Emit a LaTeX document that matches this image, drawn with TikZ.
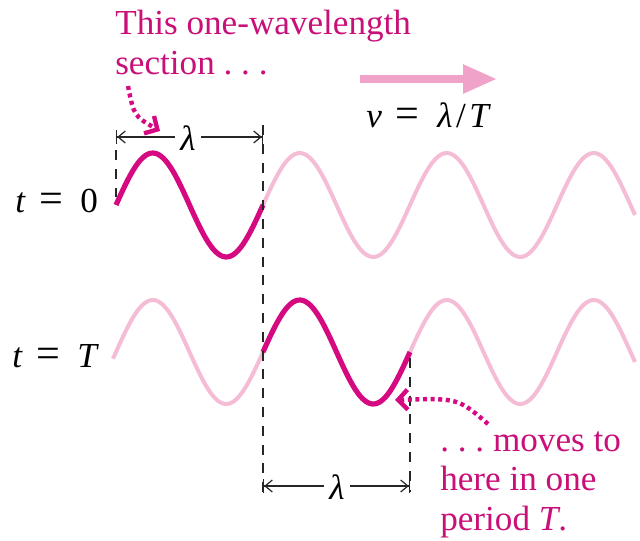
\documentclass[tikz,border=0pt]{standalone}
\usepackage{fontspec}
\setmainfont{Liberation Serif}
\usepackage{xcolor}
\usetikzlibrary{arrows.meta}

\definecolor{wavedark}{RGB}{214,10,128}
\definecolor{wavepale}{RGB}{245,188,213}
\definecolor{arrpink}{RGB}{241,162,200}
\definecolor{txtpink}{RGB}{200,16,120}
\newcommand{\eqs}{\hspace{0.4em}{\fontsize{30}{30}\selectfont=}\hspace{0.5em}}

\begin{document}
\begin{tikzpicture}[x=0.25mm,y=-0.25mm]
\tikzset{
  lb/.style={font=\fontsize{25}{28}\selectfont,inner sep=0pt},
  pk/.style={lb,text=txtpink,align=left},
  dk/.style={draw=wavedark,line width=1.3mm},
  pl/.style={draw=wavepale,line width=1mm},
  dsh/.style={draw=black!85,line width=0.45mm,dash pattern=on 2.5mm off 2.2mm},
  dim/.style={draw=black!85,line width=0.3mm,{Bar[width=3.5mm]Straight Barb[length=1.8mm,width=3mm]}-{Straight Barb[length=1.8mm,width=3mm]Bar[width=3.5mm]}},
  lam/.style={lb,fill=white,inner xsep=1.3mm,inner ysep=0.5mm},
  dot/.style={draw=wavedark,line width=1.1mm,dash pattern=on 1mm off 0.9mm,-{Straight Barb[length=2.4mm,width=5mm,line width=1.1mm]}},
  vel/.style={draw=arrpink,line width=2mm,-{Triangle[length=8.5mm,width=6.8mm]}}
}
\useasboundingbox (0,0) rectangle (640,540);

% waves at t=0
\draw[pl] plot[domain=263:635,samples=120] (\x,{205-52*sin(2.44898*(\x-116))});
\draw[dk] plot[domain=116:263,samples=60] (\x,{205-52*sin(2.44898*(\x-116))});
% waves at t=T
\draw[pl] plot[domain=113:263,samples=60] (\x,{352-52*sin(2.44898*(\x-116))});
\draw[pl] plot[domain=410:635,samples=90] (\x,{352-52*sin(2.44898*(\x-116))});
\draw[dk] plot[domain=263:410,samples=60] (\x,{352-52*sin(2.44898*(\x-116))});

% dashed guides
\coordinate (d0t) at (116,150); \coordinate (d0b) at (116,197);
\coordinate (d1t) at (263,125); \coordinate (d1b) at (263,492);
\coordinate (d2t) at (410,358); \coordinate (d2b) at (410,492);
\draw[dsh] (d0t) -- (d0b);
\draw[dsh] (d1t) -- (d1b);
\draw[dsh] (d2t) -- (d2b);

% wavelength marks
\coordinate (a0) at (116,137); \coordinate (a1) at (263,137);
\coordinate (b0) at (263,486); \coordinate (b1) at (410,486);
\draw[dim] (a0) -- (a1);
\draw[dim] (b0) -- (b1);
\node[lam] (lamtop) at (188,138) {\itshape λ};
\node[lam] (lambot) at (337,487) {\itshape λ};

% labels
\node[lb,anchor=base west] (t0) at (15,212) {\itshape t\upshape\eqs 0};
\node[lb,anchor=base west] (tT) at (12,367) {\itshape t\upshape\eqs\itshape T};
\node[lb,anchor=base west] (vel) at (366,127) {\itshape v\upshape\eqs\itshape λ\upshape\hspace{0.1em}/\hspace{0.1em}\itshape T};
\node[pk,anchor=base west] (sec) at (115,74) {This one-wavelength\\section .\ .\ .};
\node[pk,anchor=base west] (mov) at (440,530) {.\ .\ .\ moves to\\here in one\\period \textit{T}.};

% velocity arrow
\coordinate (v0) at (360,79); \coordinate (v1) at (497,79);
\draw[vel] (v0) -- (v1);

% dotted pointers
\coordinate (p0) at (128,86); \coordinate (p1) at (160,131);
\draw[dot] (p0) .. controls (134,116) .. (p1);
\coordinate (q0) at (488,424); \coordinate (q1) at (395,400);
\draw[dot] (q0) .. controls (458,398) .. (q1);
\end{tikzpicture}
\end{document}
